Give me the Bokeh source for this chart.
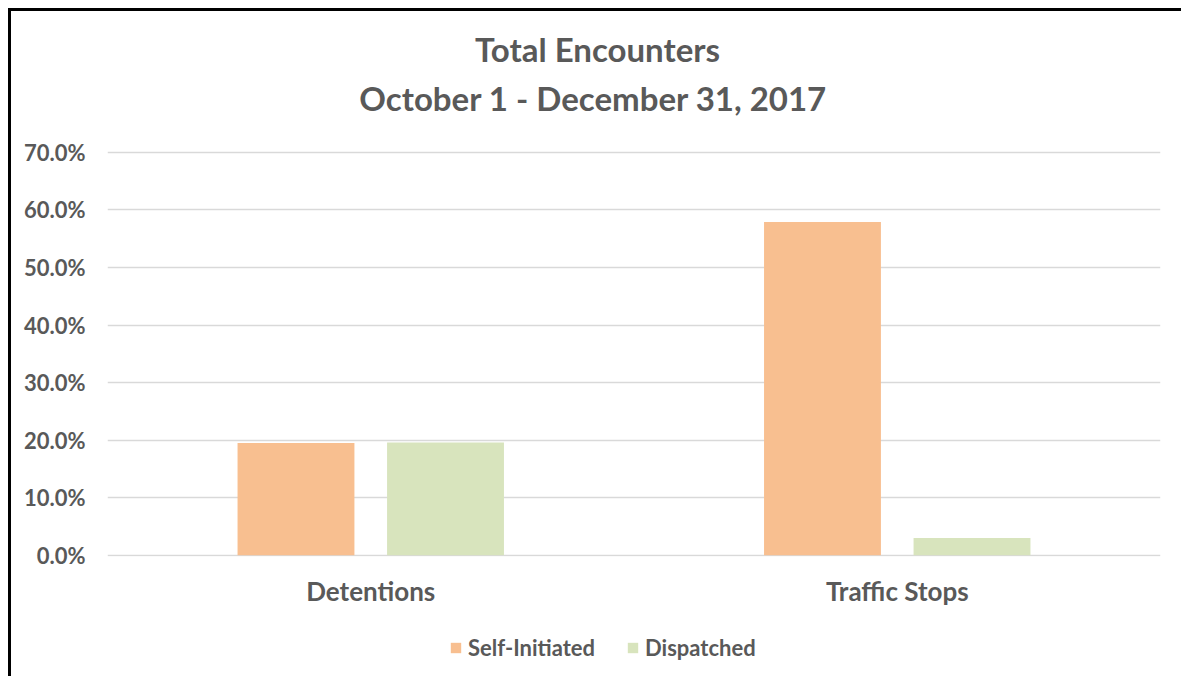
from bokeh.plotting import figure
from bokeh.layouts import column
from bokeh.models import (ColumnDataSource, FactorRange, Range1d, FixedTicker,
                          NumeralTickFormatter, Legend, LegendItem, Label)
from bokeh.transform import dodge
from bokeh.embed import file_html
from bokeh.resources import INLINE

categories = ["Detentions", "Traffic Stops"]
series_names = ["Self-Initiated", "Dispatched"]
self_initiated = [0.195, 0.579]
dispatched = [0.196, 0.030]
y_ticks = [0.0, 0.1, 0.2, 0.3, 0.4, 0.5, 0.6, 0.7]
title_lines = ["Total Encounters", "October 1  - December 31, 2017"]

FONT = "Lato"
TXT = "#595959"
C_SELF = "#F8BF90"
C_DISP = "#D8E4BD"

src = ColumnDataSource(dict(cat=categories, s=self_initiated, d=dispatched))

# frame reaches up to the top so the title lines sit inside it
p = figure(x_range=FactorRange(*categories, range_padding=0),
           y_range=Range1d(-0.002, 0.9444), title=None,
           width=1170, height=615, output_backend="svg", toolbar_location=None,
           min_border_left=96, min_border_right=21, min_border_top=0,
           min_border_bottom=70)
p.outline_line_color = None
p.background_fill_color = "white"

r1 = p.vbar(x=dodge("cat", -0.142, range=p.x_range), top="s", width=0.222,
            source=src, fill_color=C_SELF, line_color=None)
r2 = p.vbar(x=dodge("cat", 0.142, range=p.x_range), top="d", width=0.222,
            source=src, fill_color=C_DISP, line_color=None)

# axes
p.yaxis.ticker = FixedTicker(ticks=y_ticks)
p.yaxis.formatter = NumeralTickFormatter(format="0.0%")
p.yaxis.axis_line_color = None
p.yaxis.major_tick_line_color = None
p.yaxis.minor_tick_line_color = None
p.yaxis.major_label_text_font = FONT
p.yaxis.major_label_text_font_style = "bold"
p.yaxis.major_label_text_font_size = "22px"
p.yaxis.major_label_text_color = TXT
p.yaxis.major_label_standoff = 16

p.xaxis.axis_line_color = None
p.xaxis.major_tick_line_color = None
p.xaxis.minor_tick_line_color = None
p.xaxis.major_label_text_font = FONT
p.xaxis.major_label_text_font_style = "bold"
p.xaxis.major_label_text_font_size = "26px"
p.xaxis.major_label_text_color = TXT
p.xaxis.major_label_standoff = 12

p.xgrid.grid_line_color = None
p.ygrid.grid_line_color = "#D9D9D9"
p.ygrid.grid_line_width = 1.5

# title lines
for txt, yy in zip(title_lines, [0.8800, 0.7950]):
    p.add_layout(Label(x=0.9307, y=yy, text=txt, text_align="center",
                       text_baseline="alphabetic", text_font=FONT,
                       text_font_style="bold", text_font_size="33px",
                       text_color=TXT))

# legend strip
p2 = figure(width=1170, height=50, output_backend="svg", toolbar_location=None,
            x_range=Range1d(0, 1), y_range=Range1d(0, 1), title=None,
            min_border=0)
p2.axis.visible = False
p2.grid.grid_line_color = None
p2.outline_line_color = None
l1 = p2.vbar(x=[-1], top=[0], width=0, fill_color=C_SELF, line_color=None)
l2 = p2.vbar(x=[-1], top=[0], width=0, fill_color=C_DISP, line_color=None)
legend = Legend(items=[LegendItem(label=series_names[0], renderers=[l1]),
                       LegendItem(label=series_names[1], renderers=[l2])],
                orientation="horizontal", location=(342, 15),
                padding=0, margin=0, spacing=31, label_standoff=6,
                glyph_width=13, glyph_height=13,
                border_line_color=None, background_fill_alpha=0,
                label_text_font=FONT, label_text_font_style="bold",
                label_text_font_size="22px", label_text_color=TXT)
p2.add_layout(legend, "center")

layout = column(p, p2, spacing=0)
layout.styles = {"border-left": "3px solid black", "border-top": "3px solid black",
                 "margin-left": "8px", "margin-top": "8px"}

open("out.html", "w").write(file_html(layout, INLINE))
